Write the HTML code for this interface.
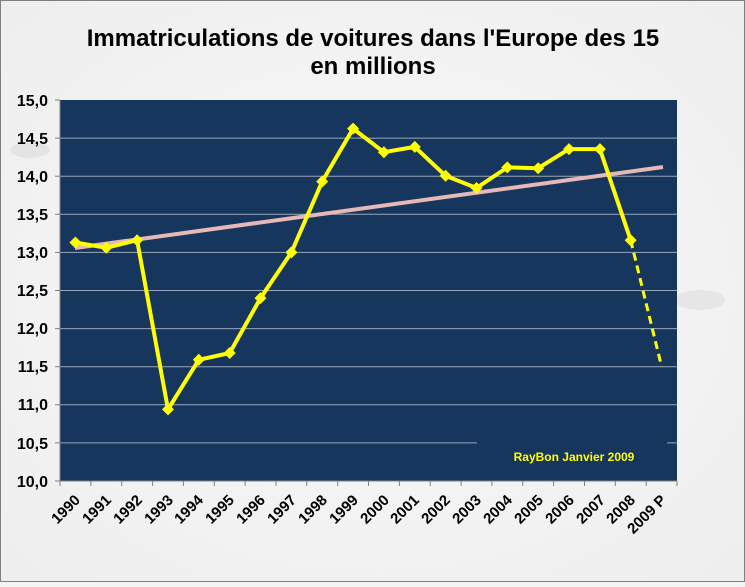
<!DOCTYPE html>
<html><head><meta charset="utf-8"><style>
html,body{margin:0;padding:0;}
body{width:745px;height:582px;overflow:hidden;background:#f4f4f4;}
</style></head><body>
<svg width="745" height="582" xmlns="http://www.w3.org/2000/svg" font-family="Liberation Sans, Arial, sans-serif">
<defs>
<radialGradient id="bg" cx="50%" cy="50%" r="70%"><stop offset="0" stop-color="#f9f9f9"/><stop offset="1" stop-color="#eeeeee"/></radialGradient>
</defs>
<rect x="0.5" y="0.5" width="744" height="581" fill="url(#bg)" stroke="#7f7f7f"/>
<ellipse cx="30" cy="150" rx="20" ry="8" fill="#e4e4e4"/>
<ellipse cx="700" cy="300" rx="25" ry="10" fill="#e6e6e6"/>
<text x="373" y="46" text-anchor="middle" font-size="24" font-weight="bold" fill="#000">Immatriculations de voitures dans l'Europe des 15</text>
<text x="373" y="74" text-anchor="middle" font-size="24" font-weight="bold" fill="#000">en millions</text>
<rect x="60" y="100" width="617" height="381" fill="#17365d"/>
<g stroke="#9aa7b8" stroke-width="1">
<line x1="60" x2="677" y1="138.1" y2="138.1"/>
<line x1="60" x2="677" y1="176.2" y2="176.2"/>
<line x1="60" x2="677" y1="214.3" y2="214.3"/>
<line x1="60" x2="677" y1="252.4" y2="252.4"/>
<line x1="60" x2="677" y1="290.5" y2="290.5"/>
<line x1="60" x2="677" y1="328.6" y2="328.6"/>
<line x1="60" x2="677" y1="366.7" y2="366.7"/>
<line x1="60" x2="677" y1="404.8" y2="404.8"/>
<line x1="60" x2="477" y1="442.9" y2="442.9"/>
<line x1="667" x2="677" y1="442.9" y2="442.9"/>
</g>
<g stroke="#808080" stroke-width="1">
<line x1="60" x2="60" y1="100" y2="486"/>
<line x1="55" x2="677" y1="481" y2="481"/>
</g>
<g stroke="#808080">
<line x1="55" x2="60" y1="100" y2="100"/><line x1="55" x2="60" y1="138.1" y2="138.1"/><line x1="55" x2="60" y1="176.2" y2="176.2"/><line x1="55" x2="60" y1="214.3" y2="214.3"/><line x1="55" x2="60" y1="252.4" y2="252.4"/><line x1="55" x2="60" y1="290.5" y2="290.5"/><line x1="55" x2="60" y1="328.6" y2="328.6"/><line x1="55" x2="60" y1="366.7" y2="366.7"/><line x1="55" x2="60" y1="404.8" y2="404.8"/><line x1="55" x2="60" y1="442.9" y2="442.9"/>
</g>
<g font-size="16" font-weight="bold" text-anchor="end" fill="#000">
<text x="48" y="106">15,0</text><text x="48" y="144">14,5</text><text x="48" y="182">14,0</text><text x="48" y="220">13,5</text><text x="48" y="258">13,0</text><text x="48" y="296">12,5</text><text x="48" y="334">12,0</text><text x="48" y="372">11,5</text><text x="48" y="410">11,0</text><text x="48" y="449">10,5</text><text x="48" y="487">10,0</text>
</g>
<line x1="75" y1="248" x2="663" y2="167" stroke="#e6b9b8" stroke-width="4"/>
<polyline fill="none" stroke="#ffff00" stroke-width="4" stroke-linejoin="round" points="75.4,242.5 106.3,247.8 137.1,240.2 168,409.4 198.8,359.8 229.7,353 260.5,298.1 291.4,252.4 322.2,181.5 353.1,128.6 383.9,152.2 414.8,146.9 445.6,175.8 476.5,188 507.3,167.4 538.2,168.2 569,149.1 599.9,149.1 630.7,240.2"/>
<line x1="630.7" y1="240.2" x2="661.6" y2="366.7" stroke="#ffff00" stroke-width="3" stroke-dasharray="8,5"/>
<g fill="#ffff00">
<path d="M75.4,236.5l6,6-6,6-6-6z"/><path d="M106.3,241.8l6,6-6,6-6-6z"/><path d="M137.1,234.2l6,6-6,6-6-6z"/><path d="M168,403.4l6,6-6,6-6-6z"/><path d="M198.8,353.8l6,6-6,6-6-6z"/><path d="M229.7,347l6,6-6,6-6-6z"/><path d="M260.5,292.1l6,6-6,6-6-6z"/><path d="M291.4,246.4l6,6-6,6-6-6z"/><path d="M322.2,175.5l6,6-6,6-6-6z"/><path d="M353.1,122.6l6,6-6,6-6-6z"/><path d="M383.9,146.2l6,6-6,6-6-6z"/><path d="M414.8,140.9l6,6-6,6-6-6z"/><path d="M445.6,169.8l6,6-6,6-6-6z"/><path d="M476.5,182l6,6-6,6-6-6z"/><path d="M507.3,161.4l6,6-6,6-6-6z"/><path d="M538.2,162.2l6,6-6,6-6-6z"/><path d="M569,143.1l6,6-6,6-6-6z"/><path d="M599.9,143.1l6,6-6,6-6-6z"/><path d="M630.7,234.2l6,6-6,6-6-6z"/>
</g>
<text x="574" y="461" text-anchor="middle" font-size="12" font-weight="bold" fill="#ffff00">RayBon Janvier 2009</text>
<g stroke="#808080">
<line x1="90.9" x2="90.9" y1="481" y2="486"/><line x1="121.7" x2="121.7" y1="481" y2="486"/><line x1="152.6" x2="152.6" y1="481" y2="486"/><line x1="183.4" x2="183.4" y1="481" y2="486"/><line x1="214.3" x2="214.3" y1="481" y2="486"/><line x1="245.1" x2="245.1" y1="481" y2="486"/><line x1="276" x2="276" y1="481" y2="486"/><line x1="306.8" x2="306.8" y1="481" y2="486"/><line x1="337.7" x2="337.7" y1="481" y2="486"/><line x1="368.5" x2="368.5" y1="481" y2="486"/><line x1="399.4" x2="399.4" y1="481" y2="486"/><line x1="430.2" x2="430.2" y1="481" y2="486"/><line x1="461.1" x2="461.1" y1="481" y2="486"/><line x1="491.9" x2="491.9" y1="481" y2="486"/><line x1="522.8" x2="522.8" y1="481" y2="486"/><line x1="553.6" x2="553.6" y1="481" y2="486"/><line x1="584.5" x2="584.5" y1="481" y2="486"/><line x1="615.3" x2="615.3" y1="481" y2="486"/><line x1="646.2" x2="646.2" y1="481" y2="486"/><line x1="677" x2="677" y1="481" y2="486"/>
</g>
<g font-size="15" font-weight="bold" text-anchor="end" fill="#000">
<text transform="translate(81,501) rotate(-45)">1990</text>
<text transform="translate(112,501) rotate(-45)">1991</text>
<text transform="translate(143,501) rotate(-45)">1992</text>
<text transform="translate(174,501) rotate(-45)">1993</text>
<text transform="translate(204,501) rotate(-45)">1994</text>
<text transform="translate(235,501) rotate(-45)">1995</text>
<text transform="translate(266,501) rotate(-45)">1996</text>
<text transform="translate(297,501) rotate(-45)">1997</text>
<text transform="translate(328,501) rotate(-45)">1998</text>
<text transform="translate(359,501) rotate(-45)">1999</text>
<text transform="translate(390,501) rotate(-45)">2000</text>
<text transform="translate(420,501) rotate(-45)">2001</text>
<text transform="translate(451,501) rotate(-45)">2002</text>
<text transform="translate(482,501) rotate(-45)">2003</text>
<text transform="translate(513,501) rotate(-45)">2004</text>
<text transform="translate(544,501) rotate(-45)">2005</text>
<text transform="translate(575,501) rotate(-45)">2006</text>
<text transform="translate(606,501) rotate(-45)">2007</text>
<text transform="translate(636,501) rotate(-45)">2008</text>
<text transform="translate(667,501) rotate(-45)">2009 P</text>
</g>
</svg>
</body></html>
